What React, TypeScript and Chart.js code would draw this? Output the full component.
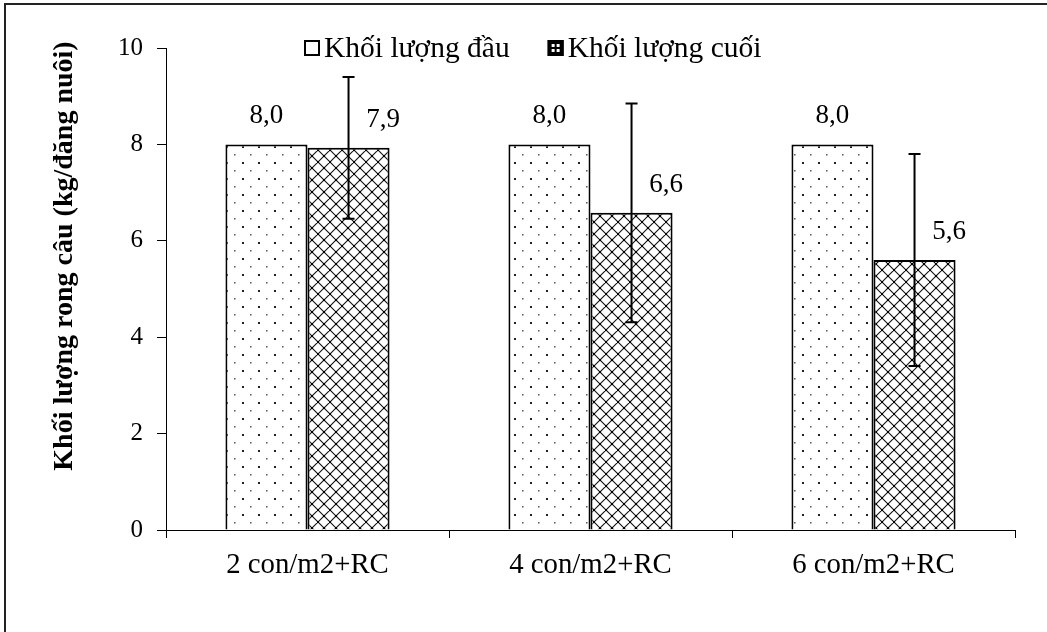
import React, { useEffect, useRef } from 'react';
import { Chart, registerables } from 'chart.js';

Chart.register(...registerables);

const categories = ['2 con/m2+RC', '4 con/m2+RC', '6 con/m2+RC'];
const seriesNames = ['Khối lượng đầu', 'Khối lượng cuối'];
const initialMass = [8.0, 8.0, 8.0];
const finalMass = [7.93, 6.58, 5.6];
const initialErr = [0, 0, 0];
const finalErr = [1.47, 2.27, 2.2];
const yMin = 0;
const yMax = 10;
const yStep = 2;
const yTitle = 'Khối lượng rong câu (kg/đăng nuôi)';

const FONT = '"Liberation Serif", "Times New Roman", serif';

function makeDotPattern(ctx: CanvasRenderingContext2D) {
  const c = document.createElement('canvas');
  c.width = 16;
  c.height = 16;
  const g = c.getContext('2d')!;
  g.fillStyle = '#ffffff';
  g.fillRect(0, 0, 16, 16);
  g.fillStyle = '#222222';
  g.fillRect(2, 2, 2, 2);
  g.fillStyle = '#555555';
  g.fillRect(10, 10, 1.5, 1.5);
  return ctx.createPattern(c, 'repeat')!;
}

function makeCrossPattern(ctx: CanvasRenderingContext2D) {
  const s = 12;
  const c = document.createElement('canvas');
  c.width = s;
  c.height = s;
  const g = c.getContext('2d')!;
  g.fillStyle = '#ffffff';
  g.fillRect(0, 0, s, s);
  g.strokeStyle = '#111111';
  g.lineWidth = 1.1;
  g.beginPath();
  for (const k of [-s, 0, s]) {
    g.moveTo(k - 1, -1);
    g.lineTo(k + s + 1, s + 1);
    g.moveTo(k + s + 1, -1);
    g.lineTo(k - 1, s + 1);
  }
  g.stroke();
  g.fillStyle = '#000000';
  g.fillRect(s / 2 - 1, s / 2 - 1, 2, 2);
  g.fillRect(0, 0, 1, 1);
  g.fillRect(s - 1, 0, 1, 1);
  g.fillRect(0, s - 1, 1, 1);
  g.fillRect(s - 1, s - 1, 1, 1);
  return ctx.createPattern(c, 'repeat')!;
}

const errors = [initialErr, finalErr];

const errorBarPlugin = {
  id: 'errorBars',
  afterDatasetsDraw(chart: any) {
    const ctx = chart.ctx;
    const y = chart.scales.y;
    errors.forEach((errs, di) => {
      const meta = chart.getDatasetMeta(di);
      meta.data.forEach((bar: any, i: number) => {
        const e = errs[i];
        if (!e) return;
        const v = chart.data.datasets[di].data[i] as number;
        const yt = y.getPixelForValue(v + e);
        const yb = y.getPixelForValue(v - e);
        ctx.save();
        ctx.strokeStyle = '#000';
        ctx.lineWidth = 2;
        ctx.beginPath();
        ctx.moveTo(bar.x, yt);
        ctx.lineTo(bar.x, yb);
        ctx.moveTo(bar.x - 6, yt);
        ctx.lineTo(bar.x + 6, yt);
        ctx.moveTo(bar.x - 6, yb);
        ctx.lineTo(bar.x + 6, yb);
        ctx.stroke();
        ctx.restore();
      });
    });
  },
};

const valueLabelPlugin = {
  id: 'valueLabels',
  afterDatasetsDraw(chart: any) {
    const ctx = chart.ctx;
    ctx.save();
    ctx.font = `27px ${FONT}`;
    ctx.fillStyle = '#000';
    ctx.textAlign = 'center';
    ctx.textBaseline = 'middle';
    chart.data.datasets.forEach((ds: any, di: number) => {
      const meta = chart.getDatasetMeta(di);
      meta.data.forEach((bar: any, i: number) => {
        const v = ds.data[i] as number;
        const txt = v.toFixed(1).replace('.', ',');
        const dx = di === 1 ? bar.width * 0.42 : 0;
        ctx.fillText(txt, bar.x + dx, bar.y - 28);
      });
    });
    ctx.restore();
  },
};

const legendFramePlugin = {
  id: 'legendFrame',
  afterDraw(chart: any) {
    const ctx = chart.ctx;
    const area = chart.chartArea;
    ctx.save();
    // outer frame (left & top visible)
    ctx.strokeStyle = '#222';
    ctx.lineWidth = 2;
    ctx.strokeRect(5, 4, 1200, 1000);

    // y-axis title
    ctx.save();
    ctx.font = `bold 28px ${FONT}`;
    ctx.fillStyle = '#000';
    ctx.textAlign = 'center';
    ctx.textBaseline = 'middle';
    ctx.translate(65, area.top + 208);
    ctx.rotate(-Math.PI / 2);
    ctx.fillText(yTitle, 0, 0);
    ctx.restore();

    // legend
    ctx.font = `29.5px ${FONT}`;
    ctx.textBaseline = 'middle';
    ctx.textAlign = 'left';
    const cy = area.top;
    const box = 16;
    let x = area.left + 138;
    chart.data.datasets.forEach((ds: any, di: number) => {
      const bx = x;
      const by = cy - box / 2;
      if (di === 0) {
        ctx.fillStyle = '#fff';
        ctx.fillRect(bx, by, box, box);
      } else {
        ctx.fillStyle = '#000';
        ctx.fillRect(bx, by, box, box);
        ctx.fillStyle = '#fff';
        ctx.fillRect(bx + 4, by + 4, 3, 3);
        ctx.fillRect(bx + 9, by + 4, 3, 3);
        ctx.fillRect(bx + 4, by + 9, 3, 3);
        ctx.fillRect(bx + 9, by + 9, 3, 3);
      }
      ctx.strokeStyle = '#000';
      ctx.lineWidth = 2;
      ctx.strokeRect(bx + 1, by + 1, box - 2, box - 2);
      ctx.fillStyle = '#000';
      const label = ds.label as string;
      ctx.fillText(label, x + box + 4, cy + 1);
      x += box + 4 + ctx.measureText(label).width + 38;
    });
    ctx.restore();
  },
};

export default function App() {
  const ref = useRef<HTMLCanvasElement | null>(null);
  useEffect(() => {
    const canvas = ref.current!;
    const ctx = canvas.getContext('2d')!;
    const dots = makeDotPattern(ctx);
    const cross = makeCrossPattern(ctx);
    const chart = new Chart(ctx, {
      type: 'bar',
      data: {
        labels: categories,
        datasets: [
          {
            label: seriesNames[0],
            data: initialMass,
            backgroundColor: dots as any,
            borderColor: '#000',
            borderWidth: 2,
            categoryPercentage: 0.58,
            barPercentage: 1.0,
          },
          {
            label: seriesNames[1],
            data: finalMass,
            backgroundColor: cross as any,
            borderColor: '#000',
            borderWidth: 2,
            categoryPercentage: 0.58,
            barPercentage: 1.0,
          },
        ],
      },
      options: {
        responsive: false,
        animation: false,
        events: [],
        layout: { padding: { left: 0, right: 32, top: 48, bottom: 0 } },
        plugins: {
          legend: { display: false },
          tooltip: { enabled: false },
          title: { display: false },
        },
        scales: {
          x: {
            type: 'category',
            grid: {
              offset: true,
              drawOnChartArea: false,
              drawTicks: true,
              tickLength: 8,
              color: '#000',
              lineWidth: 1,
            },
            border: { display: true, color: '#000', width: 1 },
            ticks: {
              color: '#000',
              font: { family: FONT, size: 28.8 },
              padding: 10,
              maxRotation: 0,
            },
            afterFit(scale: any) {
              scale.height = 102;
            },
          },
          y: {
            min: yMin,
            max: yMax,
            grid: {
              drawOnChartArea: false,
              drawTicks: true,
              tickLength: 9,
              color: '#000',
              lineWidth: 1,
            },
            border: { display: true, color: '#000', width: 1 },
            ticks: {
              stepSize: yStep,
              color: '#000',
              font: { family: FONT, size: 25 },
              padding: 14,
            },
            afterFit(scale: any) {
              scale.width = 166;
            },
          },
        },
      },
      plugins: [errorBarPlugin, valueLabelPlugin, legendFramePlugin],
    });
    return () => chart.destroy();
  }, []);
  return (
    <canvas
      ref={ref}
      width={1047}
      height={632}
      style={{ position: 'absolute', left: 0, top: 0, width: 1047, height: 632, background: '#fff' }}
    />
  );
}
